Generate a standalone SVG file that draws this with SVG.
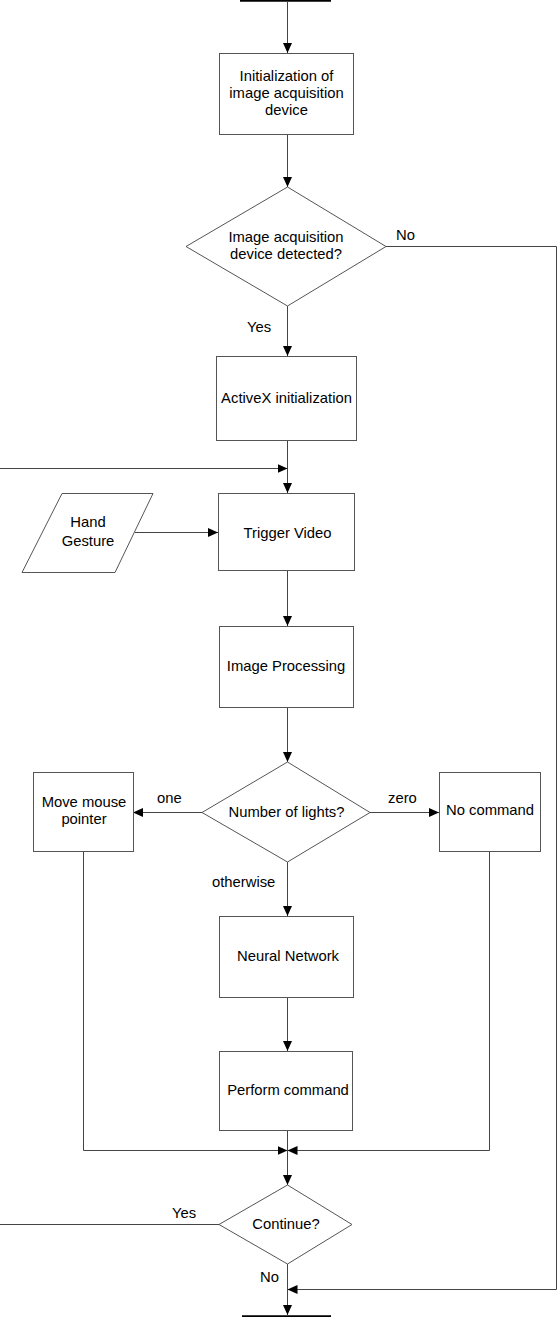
<svg xmlns="http://www.w3.org/2000/svg" width="559" height="1317" viewBox="0 0 559 1317">
<defs>
<marker id="arr" markerUnits="userSpaceOnUse" markerWidth="10" markerHeight="9" refX="10" refY="4.5" orient="auto">
<path d="M0,0 L10,4.5 L0,9 z" fill="#000"/>
</marker>
<style>
.n{fill:#fff;stroke:#555;stroke-width:1}
.c{fill:none;stroke:#444;stroke-width:1}
.a{marker-end:url(#arr)}
text{font-family:"Liberation Sans",Arial,sans-serif;font-size:14.8px;fill:#000}
.m{text-anchor:middle}
.bar{stroke:#000;stroke-width:2.5}
</style>
</defs>
<rect width="559" height="1317" fill="#fff"/>
<g id="connectors">
<line class="bar" x1="240" y1="0.5" x2="331" y2="0.5"/>
<line class="bar" x1="242" y1="1316.5" x2="331" y2="1316.5"/>
<path class="c a" d="M287.5,1 V53"/>
<path class="c a" d="M287.5,134 V187"/>
<path class="c a" d="M386,246.5 H556.5 V1289.5 H287.5"/>
<path class="c a" d="M287.5,306 V356"/>
<path class="c a" d="M287.5,440 V493"/>
<path class="c a" d="M0,468.5 H287.5"/>
<path class="c a" d="M135,532.5 H218"/>
<path class="c a" d="M287.5,570 V626"/>
<path class="c a" d="M287.5,707 V762"/>
<path class="c a" d="M202,812.5 H133"/>
<path class="c a" d="M370,812.5 H439"/>
<path class="c a" d="M287.5,862 V916"/>
<path class="c a" d="M287.5,997 V1051"/>
<path class="c a" d="M83.5,851 V1150.5 H287.5"/>
<path class="c a" d="M489.5,851 V1150.5 H287.5"/>
<path class="c a" d="M287.5,1130 V1185"/>
<path class="c" d="M219,1224.5 H0"/>
<path class="c a" d="M287.5,1264 V1315"/>
<text x="396" y="240">No</text>
<text x="247" y="332">Yes</text>
<text x="157" y="803">one</text>
<text x="388" y="803">zero</text>
<text x="212" y="887">otherwise</text>
<text x="172" y="1218">Yes</text>
<text x="260" y="1282">No</text>
</g>
<g id="init">
<rect class="n" x="219.5" y="53.5" width="134" height="81"/>
<text class="m" x="286.5" y="81">Initialization of</text>
<text class="m" x="286.5" y="98">image acquisition</text>
<text class="m" x="286.5" y="115">device</text>
</g>
<g id="detected">
<polygon class="n" points="287.5,187 386,246.5 287.5,306 186,246.5"/>
<text class="m" x="286" y="242">Image acquisition</text>
<text class="m" x="286" y="259">device detected?</text>
</g>
<g id="activex">
<rect class="n" x="216.5" y="356.5" width="140" height="84"/>
<text class="m" x="286.5" y="403">ActiveX initialization</text>
</g>
<g id="hand">
<polygon class="n" points="62,493.5 153,493.5 115,572.5 22,572.5"/>
<text class="m" x="88" y="527">Hand</text>
<text class="m" x="88" y="546">Gesture</text>
</g>
<g id="trigger">
<rect class="n" x="218.5" y="493.5" width="136" height="77"/>
<text class="m" x="287.5" y="538">Trigger Video</text>
</g>
<g id="processing">
<rect class="n" x="219.5" y="626.5" width="134" height="81"/>
<text class="m" x="286" y="671">Image Processing</text>
</g>
<g id="lights">
<polygon class="n" points="287.5,762 370,812.5 287.5,862 202,812.5"/>
<text class="m" x="286.5" y="817">Number of lights?</text>
</g>
<g id="mouse">
<rect class="n" x="33.5" y="772.5" width="100" height="79"/>
<text class="m" x="84" y="807">Move mouse</text>
<text class="m" x="84" y="824">pointer</text>
</g>
<g id="nocommand">
<rect class="n" x="439.5" y="772.5" width="101" height="79"/>
<text class="m" x="490" y="815">No command</text>
</g>
<g id="neural">
<rect class="n" x="219.5" y="916.5" width="134" height="81"/>
<text class="m" x="288" y="961">Neural Network</text>
</g>
<g id="perform">
<rect class="n" x="219.5" y="1051.5" width="133" height="79"/>
<text class="m" x="288" y="1095">Perform command</text>
</g>
<g id="continue">
<polygon class="n" points="287.5,1185 352,1224.5 287.5,1264 219,1224.5"/>
<text class="m" x="286" y="1229">Continue?</text>
</g>
</svg>
